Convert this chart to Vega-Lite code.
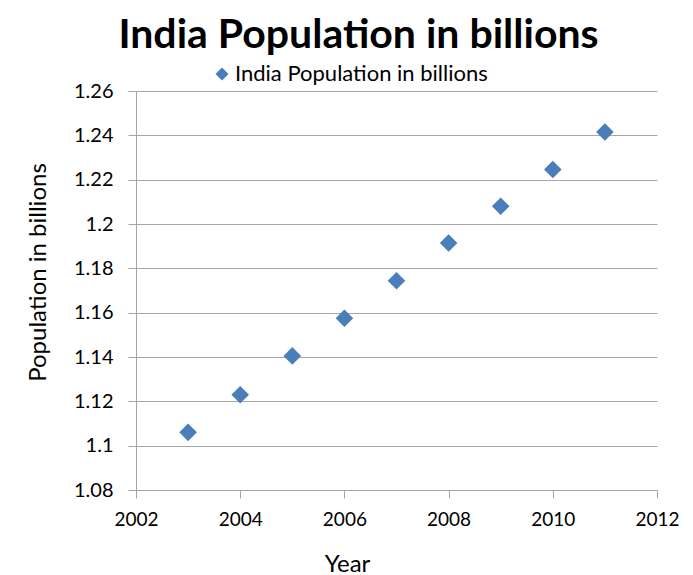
{
  "$schema": "https://vega.github.io/schema/vega-lite/v6.json",
  "width": 521,
  "height": 399,
  "autosize": {"type": "none"},
  "padding": {"left": 136, "top": 91, "right": 36, "bottom": 85},
  "background": "white",
  "title": {
    "text": "India Population in billions",
    "font": "Lato",
    "fontSize": 41,
    "fontWeight": "bold",
    "color": "#000000",
    "anchor": "middle",
    "dx": -38,
    "offset": 6
  },
  "data": {
    "values": [
      {"year": 2003, "pop": 1.106, "series": "India Population in billions"},
      {"year": 2004, "pop": 1.123, "series": "India Population in billions"},
      {"year": 2005, "pop": 1.1405, "series": "India Population in billions"},
      {"year": 2006, "pop": 1.1575, "series": "India Population in billions"},
      {"year": 2007, "pop": 1.1744, "series": "India Population in billions"},
      {"year": 2008, "pop": 1.1914, "series": "India Population in billions"},
      {"year": 2009, "pop": 1.208, "series": "India Population in billions"},
      {"year": 2010, "pop": 1.2246, "series": "India Population in billions"},
      {"year": 2011, "pop": 1.2415, "series": "India Population in billions"}
    ]
  },
  "mark": {"type": "point", "shape": "diamond", "filled": true, "size": 310, "opacity": 1},
  "encoding": {
    "x": {
      "field": "year",
      "type": "quantitative",
      "scale": {"domain": [2002, 2012], "nice": false, "zero": false},
      "axis": {
        "values": [2002, 2004, 2006, 2008, 2010, 2012],
        "format": "d",
        "grid": false,
        "title": "Year",
        "titleFont": "Lato",
        "titleFontSize": 24,
        "titleFontWeight": "normal",
        "titleColor": "#000000",
        "titleX": 211,
        "titleY": 81,
        "titleBaseline": "alphabetic",
        "titleAlign": "center",
        "labelFont": "Lato",
        "labelFontSize": 19,
        "labelColor": "#000000",
        "labelPadding": 12,
        "tickSize": 8,
        "tickColor": "#a6a6a6",
        "domainColor": "#a6a6a6",
        "labelFlush": false
      }
    },
    "y": {
      "field": "pop",
      "type": "quantitative",
      "scale": {"domain": [1.08, 1.26], "nice": false, "zero": false},
      "axis": {
        "values": [1.08, 1.1, 1.12, 1.14, 1.16, 1.18, 1.2, 1.22, 1.24, 1.26],
        "format": ".2~f",
        "grid": true,
        "gridColor": "#a6a6a6",
        "gridOpacity": 1,
        "title": "Population in billions",
        "titleFont": "Lato",
        "titleFontSize": 24,
        "titleFontWeight": "normal",
        "titleColor": "#000000",
        "titleAngle": 270,
        "titleX": -91,
        "titleY": 181,
        "titleBaseline": "alphabetic",
        "titleAlign": "center",
        "labelFont": "Lato",
        "labelFontSize": 20,
        "labelColor": "#000000",
        "labelPadding": 15,
        "tickSize": 8,
        "tickColor": "#a6a6a6",
        "domainColor": "#a6a6a6",
        "labelFlush": false
      }
    },
    "color": {
      "field": "series",
      "type": "nominal",
      "scale": {"range": ["#4a7ebb"]},
      "legend": {
        "title": null,
        "orient": "none",
        "legendX": 75,
        "legendY": -28,
        "symbolType": "diamond",
        "symbolSize": 170,
        "symbolOpacity": 1,
        "symbolFillColor": "#4a7ebb",
        "labelFont": "Lato",
        "labelFontSize": 22,
        "labelColor": "#000000",
        "labelOffset": 2,
        "labelLimit": 400
      }
    }
  },
  "config": {
    "view": {"stroke": null}
  }
}
